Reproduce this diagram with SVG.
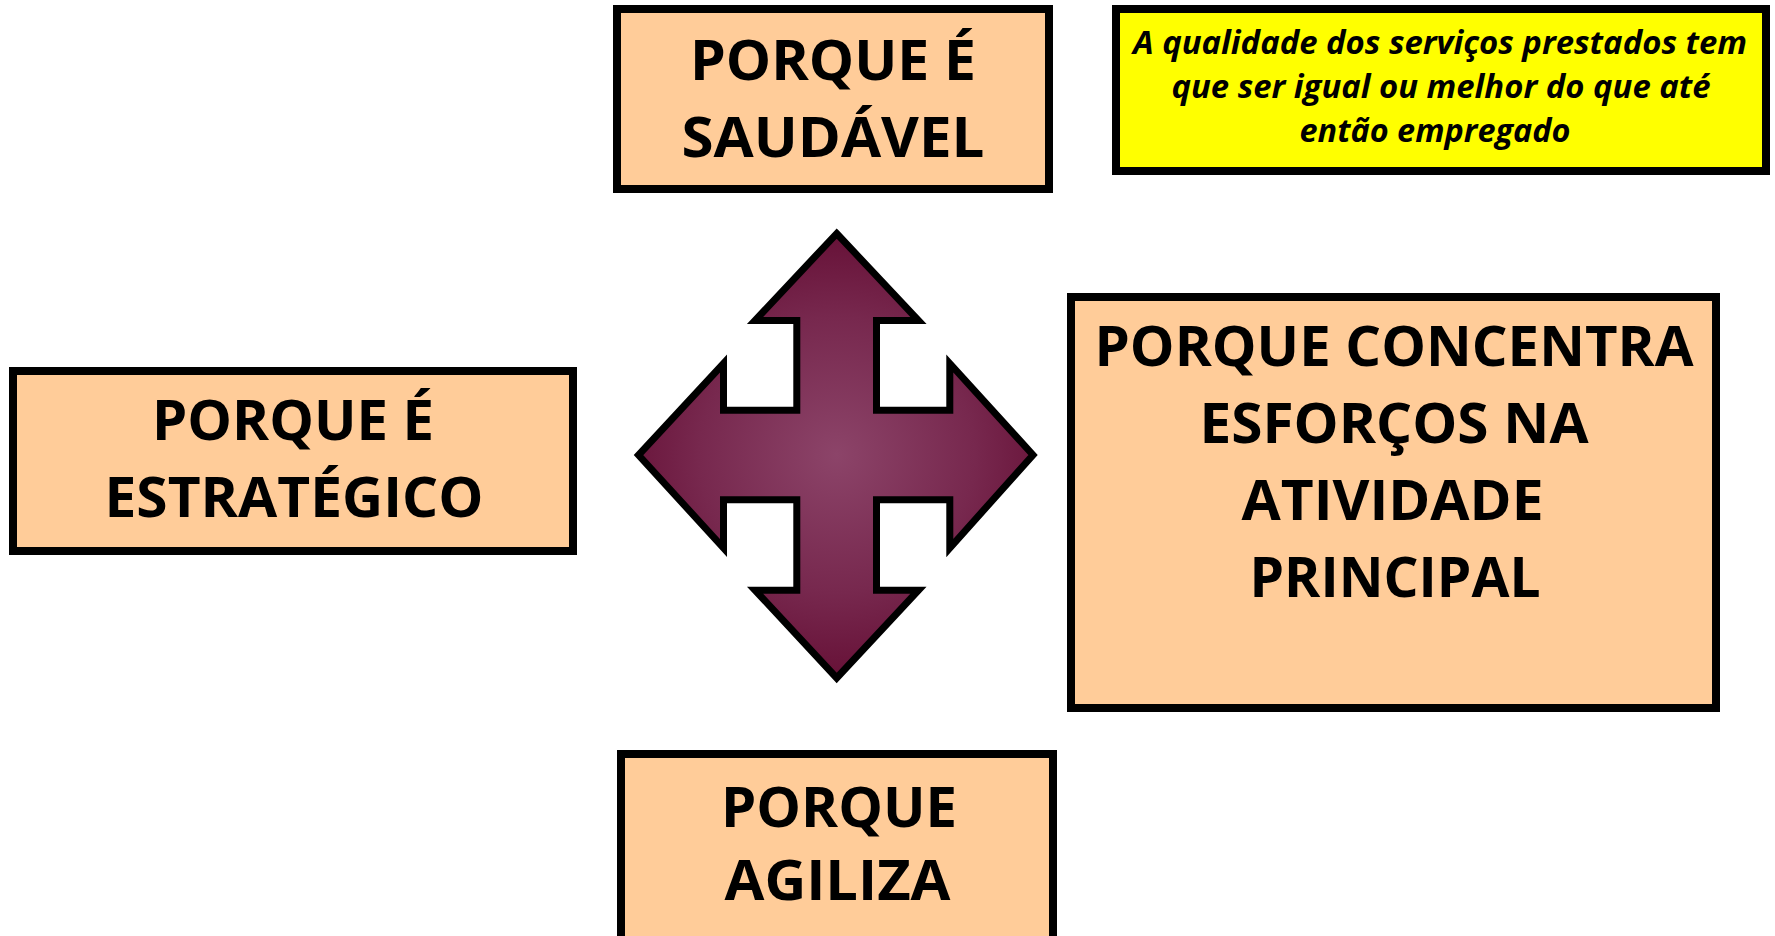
<svg xmlns="http://www.w3.org/2000/svg" width="1775" height="936" viewBox="0 0 1775 936">
<defs>
<style>
.box{fill:#FFCC99;stroke:#000;stroke-width:8}
.note{fill:#FFFF00;stroke:#000;stroke-width:8}
.t{font-family:"Open Sans","Noto Sans",sans-serif;font-weight:700;font-size:56px;fill:#000;text-anchor:middle}
.n{font-family:"Open Sans","Noto Sans",sans-serif;font-weight:700;font-style:italic;font-size:32px;fill:#000;text-anchor:middle}
</style>
<radialGradient id="g" cx="836.7" cy="455" r="230" gradientUnits="userSpaceOnUse">
<stop offset="0" stop-color="#8C4469"/>
<stop offset="0.6" stop-color="#77284E"/>
<stop offset="1" stop-color="#650F35"/>
</radialGradient>
</defs>
<rect width="1775" height="936" fill="#fff"/>
<g id="connectors">
<path id="arrow4" d="M836.7 233.5 L918.5 320.5 L876.5 320.5 L876.5 410.2 L949.8 410.2 L949.8 363.5 L1033 455 L949.8 548 L949.8 499.8 L876.5 499.8 L876.5 590.2 L918.5 590.2 L836.7 678 L755 590.2 L796.8 590.2 L796.8 499.8 L723.5 499.8 L723.5 548 L638.5 455 L723.5 363.5 L723.5 410.2 L796.8 410.2 L796.8 320.5 L755 320.5 Z" fill="url(#g)" stroke="#000" stroke-width="7" stroke-linejoin="miter"/>
</g>
<g id="saudavel">
<rect class="box" x="617" y="9" width="432" height="180"/>
<text class="t" x="833" y="80" textLength="286" lengthAdjust="spacingAndGlyphs">PORQUE É</text>
<text class="t" x="833" y="157" textLength="303" lengthAdjust="spacingAndGlyphs">SAUDÁVEL</text>
</g>
<g id="qualidade">
<rect class="note" x="1116" y="9" width="650" height="162"/>
<text class="n" x="1440" y="54" textLength="614" lengthAdjust="spacingAndGlyphs">A qualidade dos serviços prestados tem</text>
<text class="n" x="1441" y="98" textLength="539" lengthAdjust="spacingAndGlyphs">que ser igual ou melhor do que até</text>
<text class="n" x="1435" y="142" textLength="271" lengthAdjust="spacingAndGlyphs">então empregado</text>
</g>
<g id="estrategico">
<rect class="box" x="13" y="371" width="560" height="180"/>
<text class="t" x="293" y="440" textLength="282" lengthAdjust="spacingAndGlyphs">PORQUE É</text>
<text class="t" x="294" y="517" textLength="379" lengthAdjust="spacingAndGlyphs">ESTRATÉGICO</text>
</g>
<g id="concentra">
<rect class="box" x="1071" y="297" width="645" height="411"/>
<text class="t" x="1394" y="366" textLength="599" lengthAdjust="spacingAndGlyphs">PORQUE CONCENTRA</text>
<text class="t" x="1394" y="443" textLength="389" lengthAdjust="spacingAndGlyphs">ESFORÇOS NA</text>
<text class="t" x="1392.5" y="520" textLength="302" lengthAdjust="spacingAndGlyphs">ATIVIDADE</text>
<text class="t" x="1395" y="597" textLength="291" lengthAdjust="spacingAndGlyphs">PRINCIPAL</text>
</g>
<g id="agiliza">
<rect class="box" x="621" y="754" width="432" height="190"/>
<text class="t" x="839" y="827" textLength="236" lengthAdjust="spacingAndGlyphs">PORQUE</text>
<text class="t" x="837.5" y="900" textLength="226" lengthAdjust="spacingAndGlyphs">AGILIZA</text>
</g>
</svg>
